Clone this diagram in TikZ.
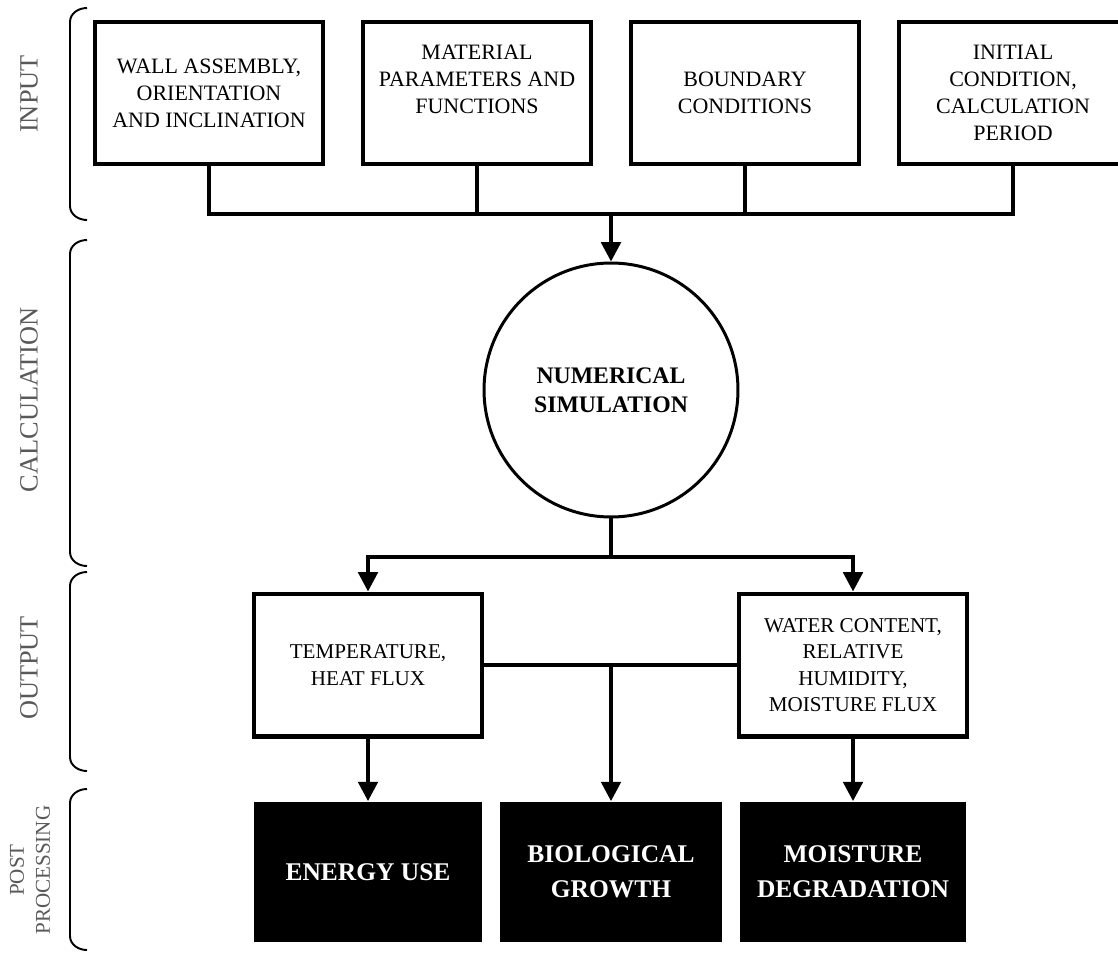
\documentclass[tikz,border=0pt]{standalone}
\usepackage{fontspec}
\setmainfont{Liberation Serif}
\usetikzlibrary{arrows.meta}

\tikzset{
  inbox/.style={draw, line width=2.3pt, minimum width=4.56cm, minimum height=2.84cm,
    inner sep=0pt, align=center, font=\fontsize{12.5}{15.3}\selectfont},
  outbox/.style={inbox, minimum height=2.86cm, font=\fontsize{12}{15}\selectfont},
  ppbox/.style={fill=black, text=white, minimum height=2.82cm, inner sep=0pt,
    align=center, font=\fontsize{14.5}{20}\selectfont\bfseries},
  simnode/.style={draw, circle, line width=1.7pt, minimum size=5.08cm, inner sep=0pt,
    align=center, font=\fontsize{13.5}{16.5}\selectfont\bfseries},
  conn/.style={line width=2.3pt},
  arr/.style={conn, -{Triangle[length=11pt, width=11pt]}},
  brace/.style={line width=1.1pt},
  lbl/.style={text=black!65, rotate=90, align=center, font=\fontsize{15}{18}\selectfont},
}

\begin{document}
\begin{tikzpicture}[x=0.02cm, y=-0.02cm]
  \useasboundingbox (0,0) rectangle (1118,956);

  % input row
  \node[inbox] (wall) at (209,93) {WALL ASSEMBLY,\\ORIENTATION\\AND INCLINATION};
  \node[inbox] (mat) at (477,93) {MATERIAL\\PARAMETERS AND\\FUNCTIONS\\\mbox{}};
  \node[inbox] (bound) at (745,93) {BOUNDARY\\CONDITIONS};
  \node[inbox] (init) at (1013,93) {INITIAL\\CONDITION,\\CALCULATION\\PERIOD};

  % solver
  \node[simnode] (sim) at (611,390) {NUMERICAL\\SIMULATION};

  % output row
  \node[outbox] (temp) at (368,665) {TEMPERATURE,\\HEAT FLUX};
  \node[outbox] (moist) at (853,665) {WATER CONTENT,\\RELATIVE\\HUMIDITY,\\MOISTURE FLUX};

  % post processing row
  \node[ppbox, minimum width=4.58cm] (energy) at (368,872) {ENERGY USE};
  \node[ppbox, minimum width=4.44cm] (bio) at (611,872) {BIOLOGICAL\\GROWTH};
  \node[ppbox, minimum width=4.52cm] (degr) at (853,872) {MOISTURE\\DEGRADATION};

  \coordinate (busin) at (611,214);
  \coordinate (busout) at (611,557);

  % input bus
  \draw[conn] (wall.south) |- (init.south |- busin) -- (init.south);
  \draw[conn] (mat.south) -- (mat.south |- busin);
  \draw[conn] (bound.south) -- (bound.south |- busin);
  \draw[arr] (busin) -- (sim.north);

  % output bus
  \draw[conn] (sim.south) -- (busout);
  \draw[arr] (busout) -| (temp.north);
  \draw[arr] (busout) -| (moist.north);
  \draw[conn] (temp.east) -- (moist.west);
  \draw[arr] (temp.east -| bio.north) -- (bio.north);
  \draw[arr] (temp.south) -- (energy.north);
  \draw[arr] (moist.south) -- (degr.north);

  % stage brackets
  \draw[brace] (87,8) to[out=180,in=90] (70,22) -- (70,206) to[out=-90,in=180] (87,220);
  \draw[brace] (87,240) to[out=180,in=90] (70,254) -- (70,552) to[out=-90,in=180] (87,566);
  \draw[brace] (87,572) to[out=180,in=90] (70,586) -- (70,757) to[out=-90,in=180] (87,771);
  \draw[brace] (87,789) to[out=180,in=90] (70,803) -- (70,936) to[out=-90,in=180] (87,950);

  \node[lbl] (linput) at (29,94) {INPUT};
  \node[lbl] (lcalc) at (29,400) {CALCULATION};
  \node[lbl] (lout) at (29,668) {OUTPUT};
  \node[lbl, font=\fontsize{12}{14.7}\selectfont] (lpost) at (30,870) {POST\\PROCESSING};
\end{tikzpicture}
\end{document}
